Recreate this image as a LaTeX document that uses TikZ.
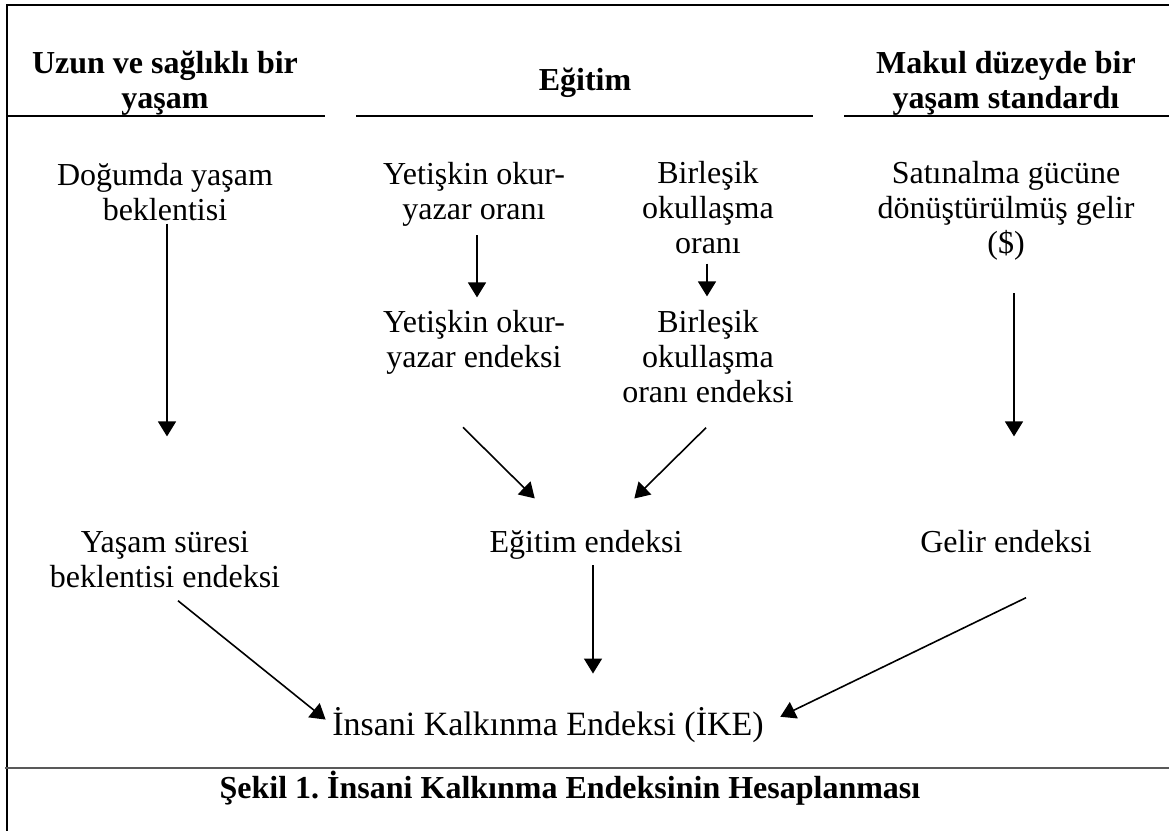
\documentclass[tikz,border=0pt]{standalone}
\usepackage{fontspec}
\setmainfont{Liberation Serif}
\usetikzlibrary{arrows.meta}
\frenchspacing

\begin{document}
\begin{tikzpicture}[x=0.5pt,y=-0.5pt,
	lbl/.style={align=center,inner sep=0pt,anchor=base,font=\fontsize{16}{17.5}\selectfont},
	head/.style={lbl,font=\fontsize{16}{17.5}\selectfont\bfseries},
	arr/.style={line width=0.8pt,-{Triangle[length=7.5pt,width=9pt]}}]
	\useasboundingbox (0,0) rectangle (1169,831);
	% frame and header rules
	\draw[line width=1.4pt] (7,831) -- (7,5) -- (1169,5);
	\foreach \st/\en in {7/325, 356/813, 844/1169} { \draw[line width=1.2pt] (\st,116) -- (\en,116); }
	\draw[line width=1pt, black!65] (5,768) -- (1169,768);
	% headers (anchor base = last line)
	\node[head] (hYasam) at (165,108) {Uzun ve sağlıklı bir\\yaşam};
	\node[head] (hEgitim) at (585,90) {Eğitim};
	\node[head] (hStd) at (1006,108) {Makul düzeyde bir\\yaşam standardı};
	% inputs
	\node[lbl] (dogum) at (165,220) {Doğumda yaşam\\beklentisi};
	\node[lbl] (okurOran) at (474,219) {Yetişkin okur-\\yazar oranı};
	\node[lbl] (okulOran) at (708,253) {Birleşik\\okullaşma\\oranı};
	\node[lbl] (gelirSat) at (1006,253) {Satınalma gücüne\\dönüştürülmüş gelir\\(\$)};
	\node[lbl] (okurEnd) at (474,367) {Yetişkin okur-\\yazar endeksi};
	\node[lbl] (okulEnd) at (708,402) {Birleşik\\okullaşma\\oranı endeksi};
	% indices
	\node[lbl] (yasamEnd) at (165,587) {Yaşam süresi\\beklentisi endeksi};
	\node[lbl] (egitimEnd) at (586,552) {Eğitim endeksi};
	\node[lbl] (gelirEnd) at (1006,552) {Gelir endeksi};
	\node[lbl, font=\fontsize{17}{18}\selectfont] (ike) at (548,735) {İnsani Kalkınma Endeksi (İKE)};
	\node[head] (sekil) at (570,798) {Şekil 1. İnsani Kalkınma Endeksinin Hesaplanması};
	% arrows
	\draw[arr, shorten >=47pt] ([shift={(1pt,-1.5pt)}]dogum.south) -- ([xshift=1pt]yasamEnd.north);
	\draw[arr, shorten >=6pt] ([shift={(1.5pt,-4.5pt)}]okurOran.south) -- ([xshift=1.5pt]okurEnd.north);
	\draw[arr, shorten >=6.5pt] ([shift={(-0.5pt,-5pt)}]okulOran.south) -- ([xshift=-0.5pt]okulEnd.north);
	\draw[arr, shorten >=46.5pt] ([shift={(4pt,-16.5pt)}]gelirSat.south) -- ([xshift=4pt]gelirEnd.north);
	\draw[arr, shorten >=22pt] ([shift={(-5.5pt,-26.5pt)}]okurEnd.south) -- ([xshift=-10pt]egitimEnd.north);
	\draw[arr, shorten >=22pt] ([shift={(-1pt,-12.5pt)}]okulEnd.south) -- ([xshift=8.5pt]egitimEnd.north);
	\draw[arr, shorten >=16.5pt] ([shift={(3.5pt,-3pt)}]egitimEnd.south) -- ([xshift=22.5pt]ike.north);
	\draw[arr, shorten >=4pt] ([shift={(6.5pt,-6.5pt)}]yasamEnd.south) -- (ike.west);
	\draw[arr, shorten >=9pt] ([shift={(10pt,-22.5pt)}]gelirEnd.south) -- (ike.east);
\end{tikzpicture}
\end{document}
